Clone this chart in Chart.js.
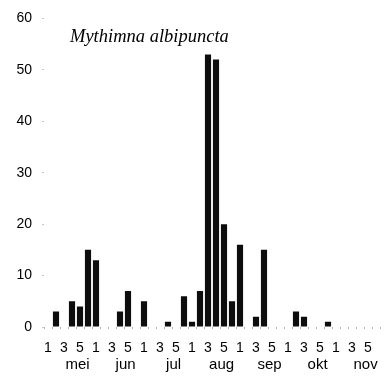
<!DOCTYPE html>
<html>
<head>
<meta charset="utf-8">
<script src="https://cdn.jsdelivr.net/npm/chart.js@4"></script>
<style>
  html, body { margin: 0; padding: 0; background: #fff; }
  #wrap { width: 387px; height: 378px; }
</style>
</head>
<body>
<div id="wrap"><canvas id="flightChart" width="387" height="378"></canvas></div>
<script>
// Catches per five-day period, May to November
const months = ['mei', 'jun', 'jul', 'aug', 'sep', 'okt', 'nov'];
const periodLabels = ['1', '', '3', '', '5', ''];
const catches = [
    0, 3, 0, 5, 4, 15,     // mei
    13, 0, 0, 3, 7, 0,     // jun
    5, 0, 0, 1, 0, 6,      // jul
    1, 7, 53, 52, 20, 5,   // aug
    16, 0, 2, 15, 0, 0,    // sep
    0, 3, 2, 0, 0, 1,      // okt
    0, 0, 0, 0, 0, 0       // nov
];
const yTicks = [0, 10, 20, 30, 40, 50, 60];
const speciesName = 'Mythimna albipuncta';

// one label per period, only 1, 3 and 5 are written
const labels = [];
months.forEach(() => periodLabels.forEach(p => labels.push(p)));

// month names under the period numbers + species name in the plot
const extraText = {
    id: 'extraText',
    afterDraw(chart) {
        const ctx = chart.ctx;
        const x = chart.scales.x;
        const step = x.getPixelForValue(1) - x.getPixelForValue(0);
        ctx.save();
        ctx.fillStyle = '#000';
        ctx.font = '15px "Liberation Sans", Arial, sans-serif';
        ctx.textAlign = 'center';
        ctx.textBaseline = 'middle';
        months.forEach((m, i) => {
            const cx = x.getPixelForValue(i * 6) + 3.7 * step;
            ctx.fillText(m, cx, 365);
        });
        ctx.font = 'italic 18.5px "Liberation Serif", "Times New Roman", serif';
        ctx.textAlign = 'left';
        ctx.textBaseline = 'alphabetic';
        ctx.fillText(speciesName, 70, 42);
        ctx.restore();
    }
};

new Chart(document.getElementById('flightChart'), {
    type: 'bar',
    data: {
        labels: labels,
        datasets: [{
            data: catches,
            backgroundColor: '#0d0d0d',
            borderWidth: 0,
            categoryPercentage: 1,
            barPercentage: 0.77
        }]
    },
    options: {
        responsive: false,
        animation: false,
        devicePixelRatio: 1,
        layout: { padding: { top: 18, right: 0, bottom: 0, left: 0 } },
        plugins: {
            legend: { display: false },
            tooltip: { enabled: false }
        },
        scales: {
            x: {
                border: { display: false },
                grid: { drawOnChartArea: false, drawTicks: true, tickLength: 2, color: '#b5b5b5' },
                ticks: {
                    autoSkip: false,
                    maxRotation: 0,
                    minRotation: 0,
                    padding: 11,
                    color: '#000',
                    font: { family: '"Liberation Sans", Arial, sans-serif', size: 14 }
                },
                afterFit(scale) { scale.height = 51; }
            },
            y: {
                min: 0,
                max: 60,
                border: { display: false },
                grid: { drawOnChartArea: false, drawTicks: true, tickLength: 2, color: '#c8c8c8' },
                afterBuildTicks(scale) { scale.ticks = yTicks.map(v => ({ value: v })); },
                ticks: {
                    padding: 10,
                    color: '#000',
                    font: { family: '"Liberation Sans", Arial, sans-serif', size: 14 }
                },
                afterFit(scale) { scale.width = 44; }
            }
        }
    },
    plugins: [extraText]
});
</script>
</body>
</html>
